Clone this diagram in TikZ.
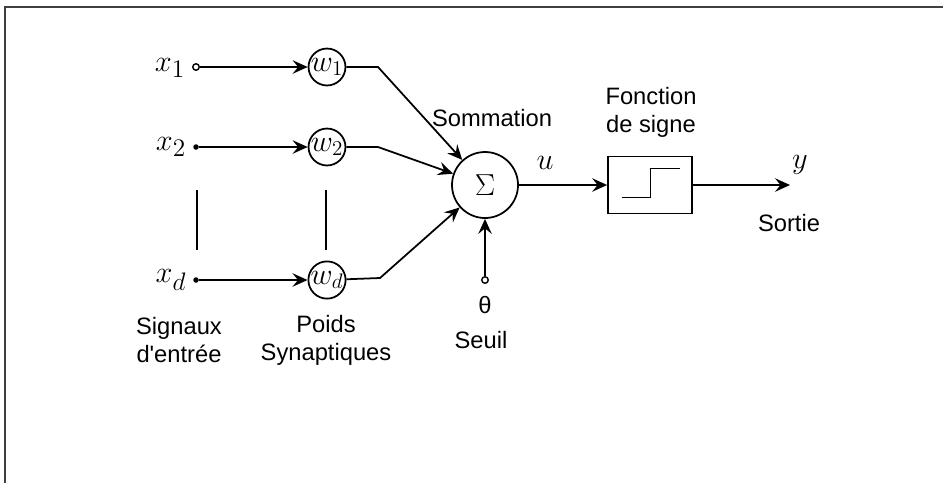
\documentclass[tikz,border=0pt]{standalone}
\usepackage{fontspec}
\setmainfont{Liberation Sans}
\usetikzlibrary{arrows.meta, positioning}

\tikzset{
  wire/.style={line width=1pt, -{Stealth[length=0.3cm, width=0.27cm, inset=0.11cm]}},
  plain/.style={line width=1pt},
  weight/.style={circle, draw, line width=1pt, minimum size=0.72cm, inner sep=0pt, font=\fontsize{17}{17}\selectfont},
  opendot/.style={circle, draw, line width=0.8pt, fill=white, inner sep=0pt, minimum size=0.13cm},
  fulldot/.style={circle, fill=black, inner sep=0pt, minimum size=0.11cm},
  lbl/.style={font=\fontsize{13.5}{16}\selectfont, align=center},
  mlbl/.style={font=\fontsize{19}{19}\selectfont},
}

\begin{document}
\begin{tikzpicture}
\useasboundingbox (0,0) rectangle (18.86,-9.66);
\draw[black!75, line width=1.4pt] (0.1,-9.66) -- (0.1,-0.14) -- (18.86,-0.14);

% inputs
\node[mlbl] (x1) at (3.4,-1.36) {$x_1$};
\node[mlbl] (x2) at (3.42,-2.94) {$x_2$};
\node[mlbl] (xd) at (3.42,-5.6) {$x_d$};

\node[opendot] (t1) at (3.92,-1.34) {};
\node[fulldot] (t2) at (3.92,-2.94) {};
\node[fulldot] (td) at (3.92,-5.6) {};

% weights
\node[weight] (w1) at (6.54,-1.34) {$w_1$};
\node[weight] (w2) at (6.54,-2.94) {$w_2$};
\node[weight] (wd) at (6.54,-5.6) {$w_d$};

\draw[wire] (t1) -- (w1);
\draw[wire] (t2) -- (w2);
\draw[wire] (td) -- (wd);

\draw[plain] (3.94,-3.8) -- (3.94,-5.0);
\draw[plain] (6.52,-3.8) -- (6.52,-5.0);

% summation
\node[circle, draw, line width=1pt, minimum size=1.32cm, inner sep=0pt, font=\fontsize{19}{19}\selectfont] (sum) at (9.7,-3.7) {$\Sigma$};

\coordinate (b1) at (7.56,-1.34);
\coordinate (b2) at (7.56,-2.94);
\coordinate (bd) at (7.6,-5.56);

\draw[wire] (w1) -- (b1) -- (sum);
\draw[wire] (w2) -- (b2) -- (sum);
\draw[wire] (wd) -- (bd) -- (sum);

\node[opendot] (th) at (9.7,-5.6) {};
\draw[wire] (th) -- (sum);

% sign function
\node[draw, line width=1pt, minimum width=1.68cm, minimum height=1.14cm] (sgn) at (13.0,-3.7) {};
\draw[plain] ([shift={(-0.57,-0.25)}]sgn.center) -- ++(0.58,0) -- ++(0,0.58) -- ++(0.58,0);

\draw[wire] (sum) -- (sgn);
\coordinate (out) at (15.8,-3.7);
\draw[wire] (sgn) -- (out);

% labels
\node[lbl] (som) at (9.84,-2.36) {Sommation};
\node[mlbl] (u) at (10.9,-3.26) {$u$};
\node[mlbl] (y) at (16.0,-3.3) {$y$};
\node[lbl] (fct) at (13.02,-2.24) {Fonction\\de signe};
\node[lbl] (sor) at (15.78,-4.46) {Sortie};
\node[lbl] (theta) at (9.7,-6.1) {θ};
\node[lbl] (seuil) at (9.62,-6.8) {Seuil};
\node[lbl] (sig) at (3.58,-6.8) {Signaux\\d\textquotesingle entrée};
\node[lbl] (poids) at (6.52,-6.8) {Poids\\Synaptiques};
\end{tikzpicture}
\end{document}
